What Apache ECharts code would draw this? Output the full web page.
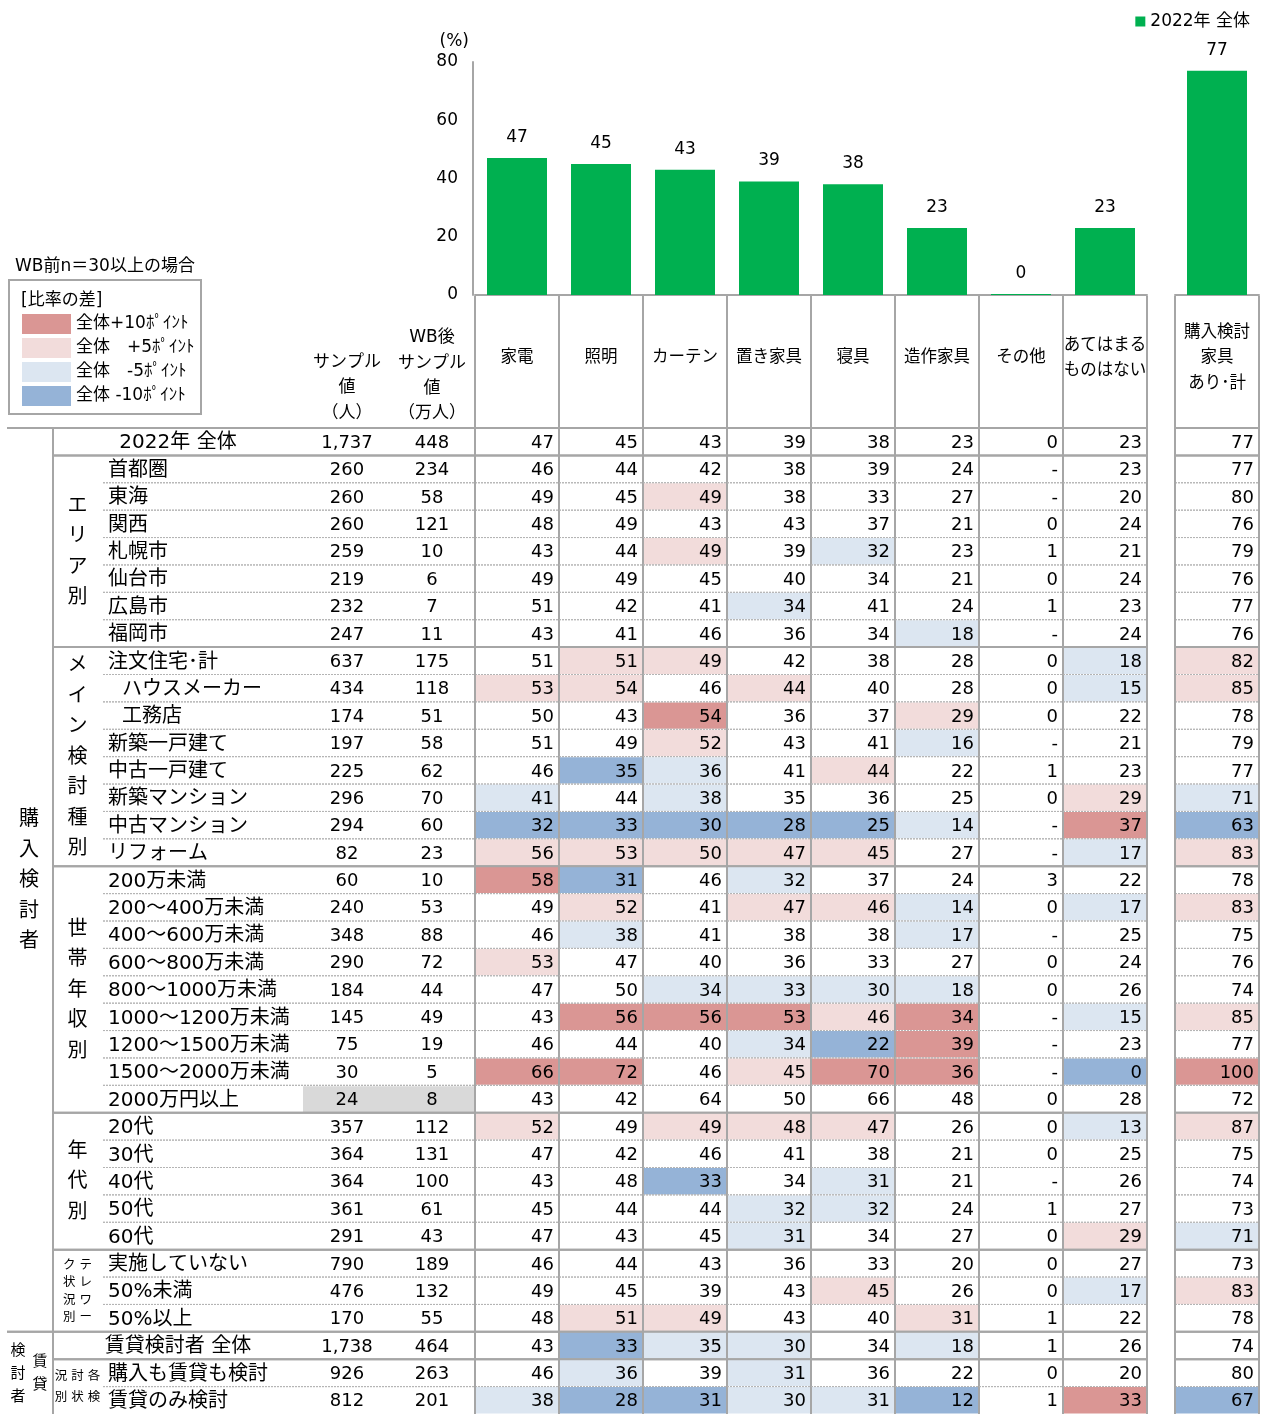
<!DOCTYPE html>
<html>
<head>
<meta charset="utf-8">
<script src="https://cdn.jsdelivr.net/npm/echarts@6/dist/echarts.min.js"></script>
<style>
html,body{margin:0;padding:0;background:#fff;}
#main{width:1263px;height:1414px;}
</style>
</head>
<body>
<div id="main"></div>
<script>
// ---- data ----
const seriesName = '2022年 全体';
const categories = ['家電', '照明', 'カーテン', '置き家具', '寝具', '造作家具', 'その他', 'あてはまる\nものはない'];
const totalCategory = '購入検討\n家具\nあり･計';
const barValues = [47, 45, 43, 39, 38, 23, 0, 23];
const totalBarValue = 77;
const yAxisMin = 0, yAxisMax = 80, yAxisStep = 20;

const rowLabels = [
  '2022年 全体', '首都圏', '東海', '関西', '札幌市', '仙台市', '広島市', '福岡市',
  '注文住宅･計', 'ハウスメーカー', '工務店', '新築一戸建て', '中古一戸建て', '新築マンション', '中古マンション', 'リフォーム',
  '200万未満', '200～400万未満', '400～600万未満', '600～800万未満', '800～1000万未満', '1000～1200万未満', '1200～1500万未満', '1500～2000万未満', '2000万円以上',
  '20代', '30代', '40代', '50代', '60代',
  '実施していない', '50%未満', '50%以上',
  '賃貸検討者 全体', '購入も賃貸も検討', '賃貸のみ検討'
];
const sampleN = [1737, 260, 260, 260, 259, 219, 232, 247, 637, 434, 174, 197, 225, 296, 294, 82, 60, 240, 348, 290, 184, 145, 75, 30, 24, 357, 364, 364, 361, 291, 790, 476, 170, 1738, 926, 812];
const sampleWB = [448, 234, 58, 121, 10, 6, 7, 11, 175, 118, 51, 58, 62, 70, 60, 23, 10, 53, 88, 72, 44, 49, 19, 5, 8, 112, 131, 100, 61, 43, 189, 132, 55, 464, 263, 201];

const colKaden   = [47, 46, 49, 48, 43, 49, 51, 43, 51, 53, 50, 51, 46, 41, 32, 56, 58, 49, 46, 53, 47, 43, 46, 66, 43, 52, 47, 43, 45, 47, 46, 49, 48, 43, 46, 38];
const colShomei  = [45, 44, 45, 49, 44, 49, 42, 41, 51, 54, 43, 49, 35, 44, 33, 53, 31, 52, 38, 47, 50, 56, 44, 72, 42, 49, 42, 48, 44, 43, 44, 45, 51, 33, 36, 28];
const colCurtain = [43, 42, 49, 43, 49, 45, 41, 46, 49, 46, 54, 52, 36, 38, 30, 50, 46, 41, 41, 40, 34, 56, 40, 46, 64, 49, 46, 33, 44, 45, 43, 39, 49, 35, 39, 31];
const colOkiKagu = [39, 38, 38, 43, 39, 40, 34, 36, 42, 44, 36, 43, 41, 35, 28, 47, 32, 47, 38, 36, 33, 53, 34, 45, 50, 48, 41, 34, 32, 31, 36, 43, 43, 30, 31, 30];
const colShingu  = [38, 39, 33, 37, 32, 34, 41, 34, 38, 40, 37, 41, 44, 36, 25, 45, 37, 46, 38, 33, 30, 46, 22, 70, 66, 47, 38, 31, 32, 34, 33, 45, 40, 34, 36, 31];
const colZosaku  = [23, 24, 27, 21, 23, 21, 24, 18, 28, 28, 29, 16, 22, 25, 14, 27, 24, 14, 17, 27, 18, 34, 39, 36, 48, 26, 21, 21, 24, 27, 20, 26, 31, 18, 22, 12];
const colSonota  = [0, null, null, 0, 1, 0, 1, null, 0, 0, 0, null, 1, 0, null, null, 3, 0, null, 0, 0, null, null, null, 0, 0, 0, null, 1, 0, 0, 0, 1, 1, 0, 1];
const colNone    = [23, 23, 20, 24, 21, 24, 23, 24, 18, 15, 22, 21, 23, 29, 37, 17, 22, 17, 25, 24, 26, 15, 23, 0, 28, 13, 25, 26, 27, 29, 27, 17, 22, 26, 20, 33];
const colTotal   = [77, 77, 80, 76, 79, 76, 77, 76, 82, 85, 78, 79, 77, 71, 63, 83, 78, 83, 75, 76, 74, 85, 77, 100, 72, 87, 75, 74, 73, 71, 73, 83, 78, 74, 80, 67];

// difference from the overall row: P = +10pt, p = +5pt, b = -5pt, B = -10pt (one char per column incl. total)
const diffLevels = [
  '.........', '.........', '..p......', '.........', '..p.b....', '.........', '...b.....', '.....b...',
  '.pp....bp', 'pp.p...bp', '..P..p...', '..p..b...', '.Bb.p....', 'b.b....pb', 'BBBBBb.PB', 'ppppp..bp',
  'PB.b.....', '.p.ppb.bp', '.b...b...', 'p........', '..bbbb...', '.PPPpP.bp', '...bBP...', 'PP.pPP.BP', '.........',
  'p.ppp..bp', '.........', '..B.b....', '...bb....', '...b...pb',
  '.........', '....p..bp', '.pp..p...',
  '.Bbb.b...', '.b.b.....', 'bBBbbB.PB'
];

const rowBlocks = [[0, 0], [1, 7], [8, 15], [16, 24], [25, 29], [30, 32], [33, 33], [34, 35]];
const outerGroups = [
  { cols: ['購入検討者'], start: 0, end: 32 },
  { cols: ['賃貸', '検討者'], start: 33, end: 35 }
];
const innerGroups = [
  { cols: ['エリア別'], start: 1, end: 7 },
  { cols: ['メイン検討種別'], start: 8, end: 15 },
  { cols: ['世帯年収別'], start: 16, end: 24 },
  { cols: ['年代別'], start: 25, end: 29 },
  { cols: ['テレワー', 'ク状況別'], start: 30, end: 32 },
  { cols: ['各検', '討状', '況別'], start: 34, end: 35 }
];
const indentedRows = ['ハウスメーカー', '工務店'];
const MIN_N = 30;

const legendTitle = 'WB前n＝30以上の場合';
const legendHeading = '[比率の差]';
const legendItems = [
  ['P', '全体+10ﾎﾟｲﾝﾄ'],
  ['p', '全体　+5ﾎﾟｲﾝﾄ'],
  ['b', '全体　-5ﾎﾟｲﾝﾄ'],
  ['B', '全体 -10ﾎﾟｲﾝﾄ']
];

// ---- styles ----
const FONT = "'DejaVu Sans','Noto Sans CJK JP',sans-serif";
const GREEN = '#00b050';
const LINE = '#a6a6a6';
const DOT = '#b4b4b4';
const TXT = '#000000';
const LEVEL_FILL = { P: '#da9694', p: '#f2dcdb', b: '#dce6f1', B: '#95b3d7' };

const valueColumns = [colKaden, colShomei, colCurtain, colOkiKagu, colShingu, colZosaku, colSonota, colNone];
const blockStarts = new Set(rowBlocks.map(b => b[0]));
const outerStarts = new Set(outerGroups.map(g => g.start));
const singleRows = new Set(rowBlocks.filter(b => b[0] === b[1]).map(b => b[0]));

function boundaryKind(nextRow) {
  if (nextRow <= 0 || nextRow >= rowLabels.length) return nextRow === 0 ? 'outer' : null;
  if (outerStarts.has(nextRow)) return 'outer';
  if (blockStarts.has(nextRow)) return 'solid';
  return 'dotted';
}
function hLine(x1, x2, y, dotted) {
  return {
    type: 'line', shape: { x1: x1, y1: y, x2: x2, y2: y },
    style: dotted ? { stroke: DOT, lineWidth: 1, lineDash: [2, 1] } : { stroke: LINE, lineWidth: 2 }
  };
}
function vLine(x, y1, y2) {
  return { type: 'line', shape: { x1: x, y1: y1, x2: x, y2: y2 }, style: { stroke: LINE, lineWidth: 2 } };
}
function txt(text, x, y, size, align, lineHeight) {
  return {
    type: 'text',
    style: {
      text: text, x: x, y: y, fill: TXT, fontSize: size, fontFamily: FONT,
      align: align || 'center', verticalAlign: 'middle', lineHeight: lineHeight || size * 1.25
    }
  };
}

// value cells (one grid per block of columns)
function makeCellRenderer(columns, levelOffset) {
  return function (params, api) {
    const c = api.value(0), r = api.value(1);
    const ctr = api.coord([c, r]);
    const sz = api.size([1, 1]);
    const l = ctr[0] - sz[0] / 2, rt = ctr[0] + sz[0] / 2;
    const t = ctr[1] - sz[1] / 2, b = ctr[1] + sz[1] / 2;
    const kids = [];
    const fill = LEVEL_FILL[diffLevels[r][c + levelOffset]];
    if (fill && sampleN[r] >= MIN_N) {
      kids.push({ type: 'rect', shape: { x: l + 1, y: t + 0.5, width: sz[0] - 2, height: sz[1] - 1 }, style: { fill: fill } });
    }
    const topKind = boundaryKind(r);
    if (topKind) kids.push(hLine(l, rt, t, topKind === 'dotted'));
    const botKind = boundaryKind(r + 1);
    if (botKind) kids.push(hLine(l, rt, b, botKind === 'dotted'));
    if (c === 0) kids.push(vLine(l, t - 1, b + 1));
    kids.push(vLine(rt, t - 1, b + 1));
    const v = columns[c][r];
    kids.push(txt(v == null ? '-' : String(v), rt - 5, ctr[1] + 1.5, 18, 'right'));
    return { type: 'group', children: kids };
  };
}

// row headings: label, sample sizes, borders (x axis of this grid is in pixels 0..475)
const X_OUTER = 7, X_GROUP = 53, X_DOT = 103, X_LABEL = 108, X_INDENT = 122, X_SAMPLE = 303, X_N = 347, X_WB = 432, X_END = 475;
function renderRowHead(params, api) {
  const r = api.value(1);
  const px = v => api.coord([v, r])[0];
  const cy = api.coord([0, r])[1];
  const h = api.size([0, 1])[1];
  const t = cy - h / 2, b = cy + h / 2;
  const kids = [];
  if (sampleN[r] < MIN_N) {
    kids.push({ type: 'rect', shape: { x: px(X_SAMPLE), y: t + 1, width: px(X_END) - px(X_SAMPLE) - 1, height: h - 1.5 }, style: { fill: '#d9d9d9' } });
  }
  const label = rowLabels[r];
  if (singleRows.has(r)) {
    kids.push(txt(label, (px(X_GROUP) + px(X_SAMPLE)) / 2, cy + 1.5, 20, 'center'));
  } else {
    kids.push(txt(label, px(indentedRows.includes(label) ? X_INDENT : X_LABEL), cy + 1.5, 20, 'left'));
  }
  kids.push(txt(sampleN[r].toLocaleString('en-US'), px(X_N), cy + 1.5, 18, 'center'));
  kids.push(txt(String(sampleWB[r]), px(X_WB), cy + 1.5, 18, 'center'));
  [[r, t], [r + 1, b]].forEach(function (pair) {
    const kind = boundaryKind(pair[0]);
    if (!kind) return;
    const from = kind === 'outer' ? X_OUTER : kind === 'solid' ? X_GROUP : X_DOT;
    kids.push(hLine(px(from), px(X_END), pair[1], kind === 'dotted'));
  });
  kids.push(vLine(px(X_GROUP), t - 1, b + 1));
  return { type: 'group', children: kids };
}

// vertical group captions
function makeGroupRenderer(groups, centerX, small) {
  return function (params, api) {
    const g = groups[params.dataIndex];
    const h = api.size([0, 1])[1];
    const y0 = api.coord([0, g.start])[1] - h / 2;
    const y1 = api.coord([0, g.end])[1] + h / 2;
    const cy = (y0 + y1) / 2;
    const n = g.cols.length;
    const kids = [];
    g.cols.forEach(function (col, k) {
      const chars = Array.from(col);
      let size, lh, sp;
      if (n === 1) { size = 20; lh = 30.5; sp = 0; }
      else {
        size = small ? 12.5 : 15;
        sp = small ? 16.5 : 22;
        lh = Math.min(small ? 21 : 23, (y1 - y0 - 12) / chars.length);
      }
      const x = api.coord([centerX + ((n - 1) / 2 - k) * sp, g.start])[0];
      kids.push(txt(chars.join('\n'), x, cy + 1, size, 'center', lh));
    });
    return { type: 'group', children: kids };
  };
}

// column headers
function makeHeaderRenderer(labels) {
  return function (params, api) {
    const i = api.value(0);
    const top = api.coord([i, 1]);
    const bot = api.coord([i, 0]);
    const w = api.size([1, 0])[0];
    const l = top[0] - w / 2, rt = top[0] + w / 2;
    const kids = [];
    if (i === 0) kids.push(vLine(l, top[1], bot[1]));
    kids.push(vLine(rt, top[1], bot[1]));
    kids.push(txt(labels[i], top[0], top[1] + 62, 16.5, 'center', 25.5));
    return { type: 'group', children: kids };
  };
}

const cellData = [];
valueColumns.forEach((col, c) => col.forEach((v, r) => cellData.push([c, r])));
const totalCellData = colTotal.map((v, r) => [0, r]);
const rowData = rowLabels.map((l, r) => [0, r]);

const hiddenCat = (data, idx) => ({
  type: 'category', gridIndex: idx, data: data, show: false
});
const hiddenRows = idx => ({ type: 'category', gridIndex: idx, data: rowLabels, inverse: true, show: false });
const TABLE_TOP = 428, TABLE_H = 990;

const chart = echarts.init(document.getElementById('main'), null, { renderer: 'canvas' });
chart.setOption({
  animation: false,
  backgroundColor: '#ffffff',
  textStyle: { fontFamily: FONT },
  legend: {
    data: [seriesName], right: 8, top: 8, icon: 'rect', itemWidth: 10, itemHeight: 10, itemGap: 6,
    selectedMode: false, textStyle: { fontSize: 17, color: TXT, fontFamily: FONT }
  },
  grid: [
    { left: 475, top: 62, width: 672, height: 233 },
    { left: 1175, top: 62, width: 84, height: 233 },
    { left: 475, top: 296, width: 672, height: TABLE_TOP - 296 },
    { left: 1175, top: 296, width: 84, height: TABLE_TOP - 296 },
    { left: 475, top: TABLE_TOP, width: 672, height: TABLE_H },
    { left: 1175, top: TABLE_TOP, width: 84, height: TABLE_H },
    { left: 0, top: TABLE_TOP, width: 475, height: TABLE_H }
  ],
  xAxis: [
    { type: 'category', gridIndex: 0, data: categories, axisTick: { show: false }, axisLabel: { show: false },
      axisLine: { lineStyle: { color: LINE, width: 2 } } },
    { type: 'category', gridIndex: 1, data: [totalCategory], axisTick: { show: false }, axisLabel: { show: false },
      axisLine: { lineStyle: { color: LINE, width: 2 } } },
    hiddenCat(categories, 2),
    hiddenCat([totalCategory], 3),
    hiddenCat(categories, 4),
    hiddenCat([totalCategory], 5),
    { type: 'value', gridIndex: 6, min: 0, max: 475, show: false }
  ],
  yAxis: [
    { type: 'value', gridIndex: 0, min: yAxisMin, max: yAxisMax, interval: yAxisStep, offset: 2,
      splitLine: { show: false }, axisTick: { show: false },
      axisLine: { show: true, lineStyle: { color: LINE, width: 2 } },
      axisLabel: { fontSize: 17, color: TXT, margin: 15, fontFamily: FONT },
      name: '(%)', nameLocation: 'end', nameGap: 12,
      nameTextStyle: { fontSize: 17, color: TXT, align: 'right', fontFamily: FONT, padding: [0, 4, 0, 0] } },
    { type: 'value', gridIndex: 1, min: yAxisMin, max: yAxisMax, show: false },
    { type: 'value', gridIndex: 2, min: 0, max: 1, show: false },
    { type: 'value', gridIndex: 3, min: 0, max: 1, show: false },
    hiddenRows(4),
    hiddenRows(5),
    hiddenRows(6)
  ],
  series: [
    { name: seriesName, type: 'bar', xAxisIndex: 0, yAxisIndex: 0, data: barValues, barWidth: 60, barMinHeight: 1,
      itemStyle: { color: GREEN },
      label: { show: true, position: 'top', distance: 12, fontSize: 17, color: TXT, fontFamily: FONT } },
    { name: seriesName, type: 'bar', xAxisIndex: 1, yAxisIndex: 1, data: [totalBarValue], barWidth: 60,
      itemStyle: { color: GREEN },
      label: { show: true, position: 'top', distance: 12, fontSize: 17, color: TXT, fontFamily: FONT } },
    { type: 'custom', xAxisIndex: 2, yAxisIndex: 2, data: categories.map((c, i) => [i, 0]),
      encode: { x: 0, y: 1 }, renderItem: makeHeaderRenderer(categories), silent: true },
    { type: 'custom', xAxisIndex: 3, yAxisIndex: 3, data: [[0, 0]],
      encode: { x: 0, y: 1 }, renderItem: makeHeaderRenderer([totalCategory]), silent: true },
    { type: 'custom', xAxisIndex: 4, yAxisIndex: 4, data: cellData,
      encode: { x: 0, y: 1 }, renderItem: makeCellRenderer(valueColumns, 0), silent: true },
    { type: 'custom', xAxisIndex: 5, yAxisIndex: 5, data: totalCellData,
      encode: { x: 0, y: 1 }, renderItem: makeCellRenderer([colTotal], 8), silent: true },
    { type: 'custom', xAxisIndex: 6, yAxisIndex: 6, data: rowData,
      encode: { x: 0, y: 1 }, renderItem: renderRowHead, silent: true },
    { type: 'custom', xAxisIndex: 6, yAxisIndex: 6, data: outerGroups.map(g => [0, g.start]),
      encode: { x: 0, y: 1 }, renderItem: makeGroupRenderer(outerGroups, 29, false), silent: true },
    { type: 'custom', xAxisIndex: 6, yAxisIndex: 6, data: innerGroups.map(g => [0, g.start]),
      encode: { x: 0, y: 1 }, renderItem: makeGroupRenderer(innerGroups, 77.5, true), silent: true }
  ],
  graphic: [
    // sample size headings
    { type: 'text', x: 347, y: 388, style: { text: 'サンプル\n値\n（人）', align: 'center', verticalAlign: 'middle', lineHeight: 25.5, fontSize: 17, fontFamily: FONT, fill: TXT } },
    { type: 'text', x: 432, y: 376, style: { text: 'WB後\nサンプル\n値\n（万人）', align: 'center', verticalAlign: 'middle', lineHeight: 25.3, fontSize: 17, fontFamily: FONT, fill: TXT } },
    // highlight legend
    { type: 'text', x: 15, y: 267, style: { text: legendTitle, align: 'left', verticalAlign: 'middle', fontSize: 17, fontFamily: FONT, fill: TXT } },
    { type: 'rect', shape: { x: 9, y: 280, width: 192, height: 134 }, style: { fill: '#fff', stroke: LINE, lineWidth: 2 } },
    { type: 'text', x: 21, y: 301, style: { text: legendHeading, align: 'left', verticalAlign: 'middle', fontSize: 17, fontFamily: FONT, fill: TXT } }
  ].concat(legendItems.flatMap((item, k) => [
    { type: 'rect', shape: { x: 22, y: 314 + k * 24, width: 49, height: 20 }, style: { fill: LEVEL_FILL[item[0]] } },
    { type: 'text', x: 76, y: 324 + k * 24, style: { text: item[1], align: 'left', verticalAlign: 'middle', fontSize: 17, fontFamily: FONT, fill: TXT } }
  ]))
});
</script>
</body>
</html>
